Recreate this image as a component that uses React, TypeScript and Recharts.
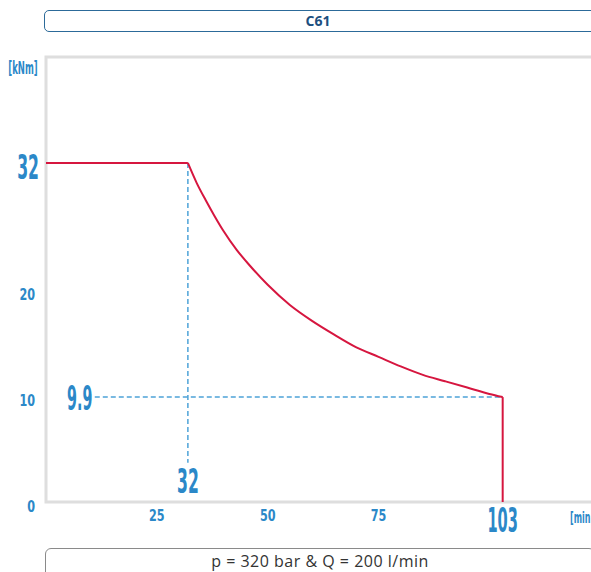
import React from "react";
import {
  LineChart,
  Line,
  XAxis,
  YAxis,
  ReferenceLine,
  ReferenceArea,
  ReferenceDot,
} from "recharts";

// Speed [min^-1] and torque [kNm]
const flatSpeed = [0, 32];
const flatTorque = [32, 32];
const curveSpeed = [32, 34, 36, 38, 40, 43, 46, 50, 55, 60, 65, 70, 75, 80, 85, 90, 95, 100, 103];
const curveTorque = [32, 30.1, 28.5, 27.0, 25.6, 23.8, 22.3, 20.5, 18.6, 17.1, 15.8, 14.6, 13.7, 12.8, 12.0, 11.4, 10.8, 10.2, 9.9];
const dropSpeed = [103, 103];
const dropTorque = [9.9, 0];

const xTicks = [25, 50, 75, 103];
const yTicks = [0, 10, 20, 32];
const bigXTicks = [103];
const bigYTicks = [32];

const cornerSpeed = 32;
const cornerTorque = 32;
const endSpeed = 103;
const endTorque = 9.9;

const title = "C61";
const footer = "p = 320 bar & Q = 200 l/min";
const yUnit = "[kNm]";
const xUnit = "[min";

const flatData = flatSpeed.map((n, i) => ({ n, t: flatTorque[i] }));
const curveData = curveSpeed.map((n, i) => ({ n, t: curveTorque[i] }));
const dropData = dropSpeed.map((n, i) => ({ n, t: dropTorque[i] }));

const BLUE = "#2b88c8";
const DASH = "#4ea3d8";
const RED = "#d6163f";
const FRAME = "#dedede";

type CondProps = {
  x: number;
  y: number;
  text: string;
  size: number;
  sx: number;
  anchor?: "start" | "middle" | "end";
  fill?: string;
};

const Cond = ({ x, y, text, size, sx, anchor = "middle", fill = BLUE }: CondProps) => (
  <text
    transform={`translate(${x},${y + 0.365 * size}) scale(${sx},1)`}
    textAnchor={anchor}
    fontFamily="'DejaVu Sans', sans-serif"
    fontWeight="bold"
    fontSize={size}
    fill={fill}
  >
    {text}
  </text>
);

const YTick = (props: any) => {
  const v = props.payload.value;
  const big = bigYTicks.includes(v);
  return big ? (
    <Cond x={39} y={props.y + 4} text={String(v)} size={34} sx={0.46} anchor="end" />
  ) : (
    <Cond x={35} y={props.y + 4} text={String(v)} size={16.5} sx={0.68} anchor="end" />
  );
};

const XTick = (props: any) => {
  const v = props.payload.value;
  const big = bigXTicks.includes(v);
  return big ? (
    <Cond x={props.x} y={520} text={String(v)} size={34} sx={0.43} />
  ) : (
    <Cond x={props.x} y={515} text={String(v)} size={16.5} sx={0.68} />
  );
};

export default function App() {
  return (
    <div
      style={{
        position: "fixed",
        left: 0,
        top: 0,
        width: 591,
        height: 572,
        overflow: "hidden",
        background: "#fff",
      }}
    >
      <div
        style={{
          position: "absolute",
          left: 44,
          top: 10,
          width: 560,
          height: 22,
          boxSizing: "border-box",
          border: "1.5px solid #2c6a99",
          borderRadius: 5,
          paddingRight: 12,
          textAlign: "center",
          fontFamily: "'Open Sans', sans-serif",
          fontWeight: 700,
          fontSize: 14,
          lineHeight: "19px",
          color: "#1d4f7f",
        }}
      >
        {title}
      </div>
      <div style={{ position: "absolute", left: 0, top: 0 }}>
        <LineChart
          width={649}
          height={572}
          margin={{ top: 57, right: 0, left: 0, bottom: 0 }}
        >
          <XAxis
            type="number"
            dataKey="n"
            domain={[0, 136]}
            ticks={xTicks}
            axisLine={false}
            tickLine={false}
            height={70}
            tick={<XTick />}
            interval={0}
            allowDuplicatedCategory={false}
          />
          <YAxis
            type="number"
            dataKey="t"
            domain={[0, 42]}
            ticks={yTicks}
            axisLine={false}
            tickLine={false}
            width={46}
            tick={<YTick />}
            interval={0}
          />
          <ReferenceArea
            x1={0}
            x2={136}
            y1={0}
            y2={42}
            fill="none"
            fillOpacity={0}
            stroke={FRAME}
            strokeWidth={3}
            ifOverflow="visible"
          />
          <ReferenceLine
            segment={[
              { x: cornerSpeed, y: cornerTorque },
              { x: cornerSpeed, y: 3.7 },
            ]}
            stroke={DASH}
            strokeWidth={1.5}
            strokeDasharray="5 3"
          />
          <ReferenceLine
            segment={[
              { x: 11, y: endTorque },
              { x: endSpeed, y: endTorque },
            ]}
            stroke={DASH}
            strokeWidth={1.5}
            strokeDasharray="5 3"
          />
          <Line
            data={flatData}
            type="linear"
            dataKey="t"
            stroke={RED}
            strokeWidth={2}
            dot={false}
            activeDot={false}
            isAnimationActive={false}
          />
          <Line
            data={curveData}
            type="monotone"
            dataKey="t"
            stroke={RED}
            strokeWidth={2}
            dot={false}
            activeDot={false}
            isAnimationActive={false}
          />
          <Line
            data={dropData}
            type="linear"
            dataKey="t"
            stroke={RED}
            strokeWidth={2}
            dot={false}
            activeDot={false}
            isAnimationActive={false}
          />
          <ReferenceDot
            x={cornerSpeed}
            y={2.0}
            r={0}
            ifOverflow="visible"
            shape={(p: any) => (
              <Cond x={p.cx} y={p.cy} text={String(cornerSpeed)} size={34} sx={0.46} />
            )}
          />
          <ReferenceDot
            x={7.6}
            y={endTorque}
            r={0}
            ifOverflow="visible"
            shape={(p: any) => (
              <Cond x={p.cx} y={p.cy} text={String(endTorque)} size={34} sx={0.42} />
            )}
          />
        </LineChart>
      </div>
      <svg
        width={591}
        height={572}
        style={{ position: "absolute", left: 0, top: 0, pointerEvents: "none" }}
      >
        <Cond x={23} y={68} text={yUnit} size={17} sx={0.5} />
        <Cond x={570} y={517} text={xUnit} size={16} sx={0.5} anchor="start" />
      </svg>
      <div
        style={{
          position: "absolute",
          left: 45,
          top: 548,
          width: 550,
          height: 40,
          boxSizing: "border-box",
          border: "1px solid #8a8a8a",
          borderRadius: 6,
          textAlign: "center",
          fontFamily: "'Open Sans', sans-serif",
          fontSize: 16,
          letterSpacing: 0.5,
          lineHeight: "25px",
          color: "#333",
        }}
      >
        {footer}
      </div>
    </div>
  );
}
